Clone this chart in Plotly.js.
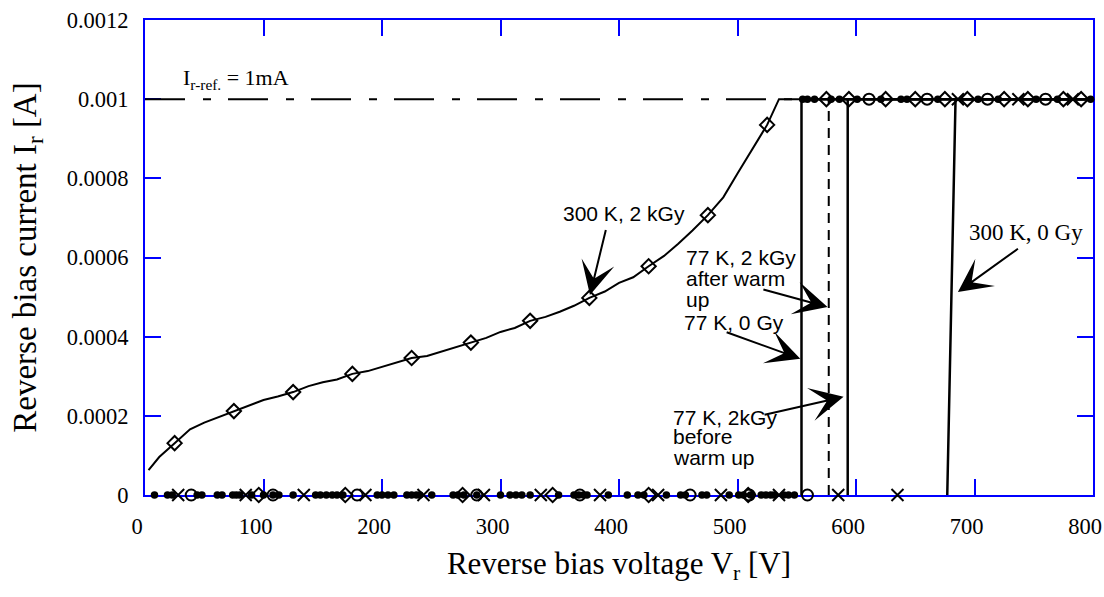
<!DOCTYPE html>
<html><head><meta charset="utf-8">
<script src="https://cdn.plot.ly/plotly-3.0.1.min.js"></script>
<style>html,body{margin:0;padding:0;background:#fff}#chart{width:1104px;height:597px}</style>
</head><body><div id="chart"></div>
<script>
// ---------- data ----------
const xRange = [0, 800];
const yRange = [0, 0.0012];
const refCurrent = 0.001;               // I_r-ref = 1 mA
const yTickVals = [0, 0.0002, 0.0004, 0.0006, 0.0008, 0.001, 0.0012];
const yTickText = ['0', '0.0002', '0.0004', '0.0006', '0.0008', '0.001', '0.0012'];
const xTickVals = [0, 100, 200, 300, 400, 500, 600, 700, 800];
const xTickText = ['0', '100', '200', '300', '400', '500', '600', '700', '800'];

// 300 K, 2 kGy : measured I-V curve
const curveV = [3, 12, 25, 38, 50, 62, 75, 88, 100, 112, 125, 138, 150, 162, 175, 188, 200, 212, 225, 238, 250, 262, 275, 288, 300, 312, 325, 338, 350, 362, 375, 388, 400, 412, 425, 438, 450, 462, 475, 488, 500, 512, 525, 535, 555, 800];
const curveI = [0.000063, 0.000096, 0.000131, 0.000166, 0.000183, 0.000197, 0.000212, 0.000227, 0.000240, 0.000249, 0.000260, 0.000275, 0.000285, 0.000292, 0.000306, 0.000313, 0.000324, 0.000334, 0.000346, 0.000351, 0.000362, 0.000373, 0.000385, 0.000397, 0.000412, 0.000422, 0.000440, 0.000450, 0.000463, 0.000478, 0.000498, 0.000514, 0.000536, 0.000550, 0.000578, 0.000604, 0.000635, 0.000668, 0.000707, 0.000752, 0.000812, 0.000872, 0.000935, 0.001, 0.001, 0.001];
const diamond300V = [25, 75, 125, 175, 225, 275, 325, 375, 425, 475, 525, 575, 625, 675, 725, 775];
const diamond300I = [0.000131, 0.000212, 0.000260, 0.000306, 0.000346, 0.000385, 0.000440, 0.000498, 0.000578, 0.000707, 0.000935, 0.001, 0.001, 0.001, 0.001, 0.001];

// 77 K, 0 Gy (filled dots)
const dots77BottomV = [8, 19, 23, 44, 48, 61, 65, 74, 77, 80, 90, 100, 108, 113, 125, 144, 148, 153, 158, 162, 167, 196, 200, 205, 210, 221, 225, 229, 232, 242, 260, 264, 269, 280, 300, 308, 313, 318, 325, 349, 362, 366, 370, 373, 391, 407, 416, 421, 440, 452, 456, 470, 474, 493, 501, 505, 511, 520, 524, 528, 531, 539, 543, 548];
const dots77TopV = [555, 559, 565, 579, 586, 601, 621, 638, 643, 669, 703, 720, 752, 770, 798];
// 77 K, 2 kGy after warm up (diamonds, dashed)
const afterBottomV = [96, 169, 268, 344, 425, 509];
const afterTopV = [594, 650, 694, 745, 790];
// 77 K, 2 kGy before warm up (open circles)
const beforeBottomV = [39, 108, 179, 280, 367, 460, 510, 559];
const beforeTopV = [611, 660, 711, 760];
// 300 K, 0 Gy (crosses)
const cross300BottomV = [28, 85, 134, 186, 235, 286, 334, 384, 433, 486, 535, 585, 635];
const cross300TopV = [686, 737, 783];

// breakdown jumps: [77K 0Gy, 77K 2kGy after, 77K 2kGy before, 300K 0Gy]
const jumpLowV = [554, 577, 593, 677];
const jumpHighV = [554, 577, 593, 684];

// ---------- traces ----------
const BLACK = '#000';
function pts(bottom, top) {
  return {x: bottom.concat(top), y: bottom.map(() => yRange[0]).concat(top.map(() => refCurrent))};
}
const traces = [];
// reference line
traces.push({x: xRange, y: [refCurrent, refCurrent], mode: 'lines',
  line: {color: BLACK, width: 2, dash: '40px,18px,8px,17px'}, hoverinfo: 'skip'});
// vertical jumps + top lines
[0, 2, 3].forEach(i => {
  traces.push({x: [jumpLowV[i], jumpHighV[i], xRange[1]], y: [yRange[0], refCurrent, refCurrent],
    mode: 'lines', line: {color: BLACK, width: 2.5}, cliponaxis: false, hoverinfo: 'skip'});
});
traces.push({x: [jumpLowV[1], jumpHighV[1]], y: [yRange[0], refCurrent], mode: 'lines',
  line: {color: BLACK, width: 2, dash: '10px,7px'}, hoverinfo: 'skip'});
// 300 K 2 kGy curve
traces.push({x: curveV, y: curveI, mode: 'lines', line: {color: BLACK, width: 2}, cliponaxis: false});
traces.push({x: diamond300V, y: diamond300I, mode: 'markers', cliponaxis: false,
  marker: {symbol: 'diamond-open', size: 11, color: BLACK, line: {width: 2, color: BLACK}}});
// markers of the other series
const p1 = pts(dots77BottomV, dots77TopV);
traces.push({x: p1.x, y: p1.y, mode: 'markers', cliponaxis: false,
  marker: {symbol: 'circle', size: 7.5, color: BLACK}});
const p2 = pts(afterBottomV, afterTopV);
traces.push({x: p2.x, y: p2.y, mode: 'markers', cliponaxis: false,
  marker: {symbol: 'diamond-open', size: 11, color: BLACK, line: {width: 2, color: BLACK}}});
const p3 = pts(beforeBottomV, beforeTopV);
traces.push({x: p3.x, y: p3.y, mode: 'markers', cliponaxis: false,
  marker: {symbol: 'circle-open', size: 11, color: BLACK, line: {width: 2, color: BLACK}}});
const p4 = pts(cross300BottomV, cross300TopV);
traces.push({x: p4.x, y: p4.y, mode: 'markers', cliponaxis: false,
  marker: {symbol: 'x-thin-open', size: 12, color: BLACK, line: {width: 2, color: BLACK}}});

// ---------- annotations ----------
const SANS = '"Liberation Sans", Arial, sans-serif';
const SERIF = '"Liberation Serif", "Times New Roman", serif';
function label(text, x, y, xanchor, font, size) {
  return {text: text, x: x, y: y, xref: 'x', yref: 'y', xanchor: xanchor, yanchor: 'middle',
    showarrow: false, font: {family: font, size: size, color: BLACK}, borderpad: 0};
}
function arrow(ax, ay, x, y) {
  return {text: ' ', x: x, y: y, ax: ax, ay: ay, xref: 'x', yref: 'y', axref: 'x', ayref: 'y',
    showarrow: true, arrowhead: 3, arrowsize: 2.8, arrowwidth: 2, arrowcolor: BLACK,
    standoff: 0, startstandoff: 0, font: {size: 4}, borderpad: 0};
}
const annotations = [
  label('I<sub>r-ref.</sub> = 1mA', 31, 0.00105, 'left', SERIF, 22),
  label('300 K, 2 kGy', 403.8, 0.000712, 'center', SANS, 21),
  arrow(389.5, 0.000677, 375.5, 0.000505),
  label('77 K, 2 kGy', 455.3, 0.000601, 'left', SANS, 21),
  label('after warm', 455.3, 0.000548, 'left', SANS, 21),
  label('up', 455.3, 0.000493, 'left', SANS, 21),
  arrow(521, 0.000520, 576, 0.000475),
  label('77 K, 0 Gy', 453.6, 0.000435, 'left', SANS, 21),
  arrow(490, 0.000412, 553, 0.000344),
  label('77 K, 2kGy', 444.4, 0.000197, 'left', SANS, 21),
  label('before', 444.4, 0.000147, 'left', SANS, 21),
  label('warm up', 444.4, 0.000096, 'left', SANS, 21),
  arrow(522, 0.000202, 589.5, 0.000248),
  label('300 K, 0 Gy', 743.4, 0.000662, 'center', SERIF, 23),
  arrow(737.5, 0.000624, 686, 0.000513)
];

const axisCommon = {
  showline: true, linecolor: '#0000ff', linewidth: 2, mirror: 'ticks',
  ticks: 'inside', ticklen: 16, tickwidth: 2, tickcolor: '#0000ff',
  showgrid: false, zeroline: false, layer: 'below traces',
  tickfont: {family: SERIF, size: 22.5, color: BLACK}
};
const layout = {
  width: 1104, height: 597,
  margin: {l: 145, r: 11, t: 20, b: 102},
  paper_bgcolor: '#fff', plot_bgcolor: '#fff',
  showlegend: false,
  font: {family: SERIF, size: 22, color: BLACK},
  xaxis: Object.assign({}, axisCommon, {
    range: xRange, tickmode: 'array', tickvals: xTickVals, ticktext: xTickText,
    ticklabelshift: -8, ticklabelstandoff: 10,
    title: {text: 'Reverse bias voltage V<sub>r</sub> [V]', font: {family: SERIF, size: 31, color: BLACK}, standoff: 14}
  }),
  yaxis: Object.assign({}, axisCommon, {
    range: yRange, tickmode: 'array', tickvals: yTickVals, ticktext: yTickText,
    ticklabelstandoff: 10,
    title: {text: 'Reverse bias current I<sub>r</sub> [A]', font: {family: SERIF, size: 33, color: BLACK}, standoff: 20}
  }),
  annotations: annotations
};
Plotly.newPlot('chart', traces, layout, {displayModeBar: false, staticPlot: true});
</script>
</body></html>
